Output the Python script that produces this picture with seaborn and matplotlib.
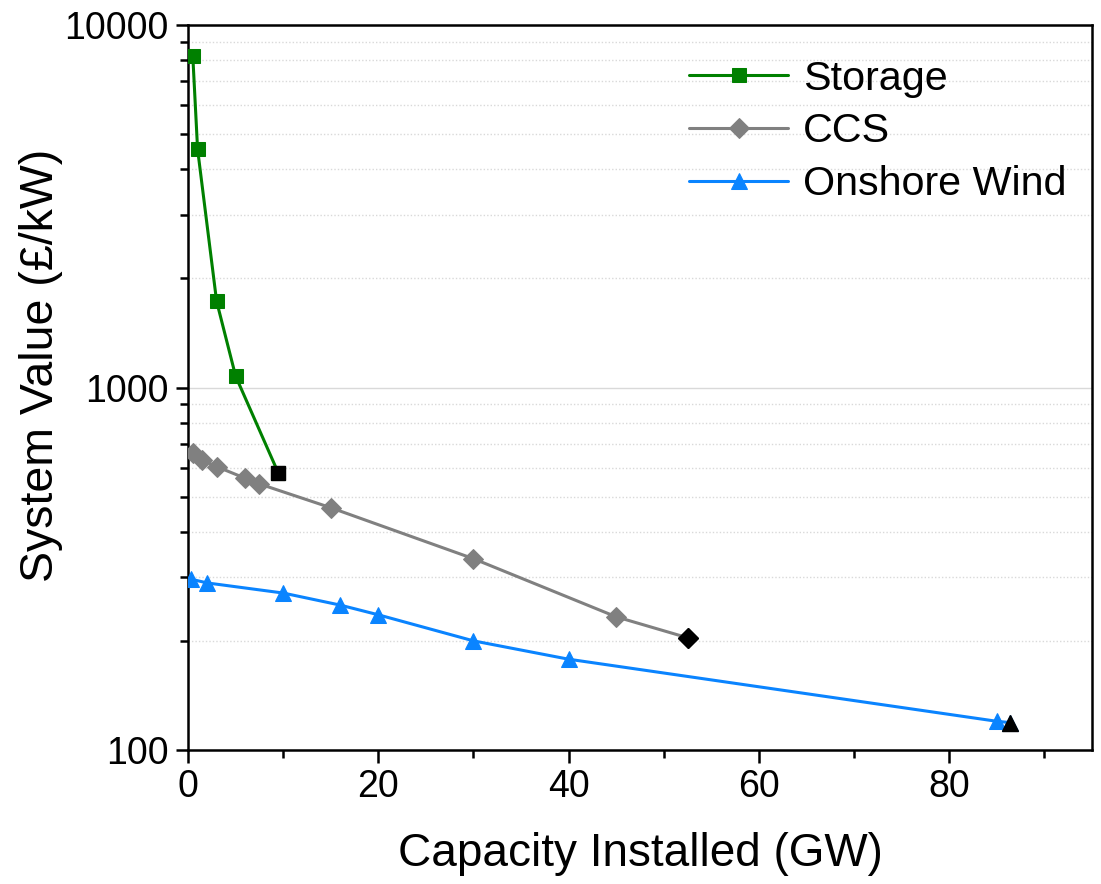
import numpy as np
import pandas as pd
import seaborn as sns
import matplotlib
matplotlib.use("Agg")
import matplotlib.pyplot as plt
from matplotlib.ticker import LogLocator, FixedLocator, FuncFormatter, NullFormatter

storage_gw = [0.5, 1, 3, 5, 9.5]
storage_value = [8200, 4550, 1730, 1075, 580]

ccs_gw = [0.5, 1.5, 3, 6, 7.5, 15, 30, 45, 52.5]
ccs_value = [660, 631, 605, 562, 542, 466, 337, 233, 204]

wind_gw = [0.3, 2, 10, 16, 20, 30, 40, 85, 86.4]
wind_value = [296, 289, 271, 251, 236, 200, 178, 120, 119]

series = [
    ("Storage", storage_gw, storage_value, "#008000", "s", 9.5),
    ("CCS", ccs_gw, ccs_value, "#808080", "D", 10),
    ("Onshore Wind", wind_gw, wind_value, "#0A84FF", "^", 12),
]

sns.set_style("ticks")
plt.rcParams["font.family"] = ["Liberation Sans", "DejaVu Sans"]
plt.rcParams.update({
    "text.color": "black",
    "axes.labelcolor": "black",
    "axes.edgecolor": "black",
    "xtick.color": "black",
    "ytick.color": "black",
})

fig = plt.figure(figsize=(11.01, 8.84), dpi=100)
ax = fig.add_axes([0.1708, 0.1516, 0.8210, 0.8201])

for name, gw, val, color, marker, ms in series:
    df = pd.DataFrame({"Capacity": gw, "Value": val})
    sns.lineplot(data=df, x="Capacity", y="Value", color=color, marker=marker,
                 markersize=ms, markeredgecolor=color, linewidth=2.2,
                 label=name, ax=ax, zorder=3)
    # last point drawn in black
    ax.plot(gw[-1:], val[-1:], linestyle="none", marker=marker, markersize=ms,
            color="black", zorder=4)

ax.set_yscale("log")
ax.set_ylim(100, 10000)
ax.set_xlim(0, 95)

ax.yaxis.set_major_locator(FixedLocator([100, 1000, 10000]))
ax.yaxis.set_major_formatter(FuncFormatter(lambda v, p: f"{int(v)}"))
ax.yaxis.set_minor_locator(LogLocator(base=10, subs=np.arange(2, 10)))
ax.yaxis.set_minor_formatter(NullFormatter())
ax.xaxis.set_major_locator(FixedLocator([0, 20, 40, 60, 80]))
ax.xaxis.set_minor_locator(FixedLocator([10, 30, 50, 70, 90]))

ax.yaxis.grid(True, which="major", color="#d9d9d9", linewidth=1)
ax.yaxis.grid(True, which="minor", color="#d9d9d9", linewidth=1, linestyle=(0, (1, 1.5)))
ax.set_axisbelow(True)

ax.tick_params(axis="both", which="major", direction="out", length=9, width=1.8,
               labelsize=27, pad=5)
ax.tick_params(axis="both", which="minor", direction="out", length=6, width=1.8)
for s in ax.spines.values():
    s.set_linewidth(1.8)
    s.set_visible(True)

ax.set_xlabel("Capacity Installed (GW)", fontsize=33, labelpad=19)
ax.set_ylabel("System Value (£/kW)", fontsize=33.5)
ax.yaxis.set_label_coords(-0.138, 0.53)

ax.legend(loc="upper right", frameon=False, fontsize=29.7, handlelength=2.4,
          handletextpad=0.35, labelspacing=0.36, borderaxespad=0,
          bbox_to_anchor=(0.99, 0.975))

fig.savefig("out.png", dpi=100)
